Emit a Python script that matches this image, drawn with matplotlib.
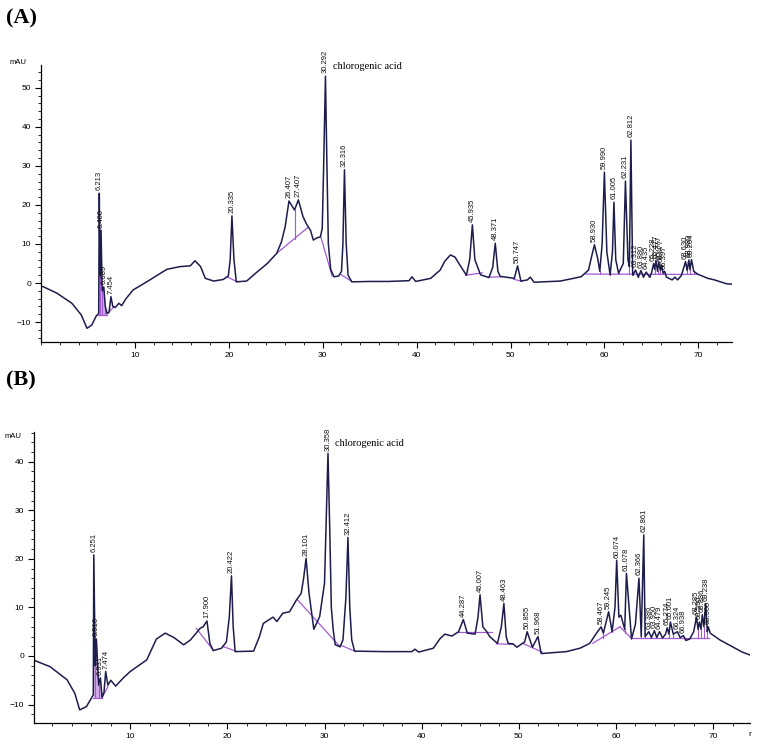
import matplotlib
matplotlib.use("Agg")
import matplotlib.pyplot as plt
import numpy as np
from matplotlib.ticker import MultipleLocator

# ---- panel A : trace points between peaks (time min, mAU) ----
a_trace_t = [0.2, 1.7, 3.3, 4.3, 4.9, 5.4, 5.9, 6.15, 6.30, 6.52, 6.85, 7.05, 7.25, 7.65, 7.9, 8.3, 8.6, 9.0,
             9.8, 11.6, 13.4, 14.8, 15.9, 16.4, 17.0, 17.5, 18.4, 19.4, 19.95, 20.15, 20.55, 20.8, 21.9, 23.0,
             24.1, 25.1, 25.6, 26.0, 27.0, 27.9, 28.3, 28.7, 29.0, 29.4, 29.75, 29.95, 30.1, 30.45, 30.6,
             30.85, 31.2, 31.7, 32.0, 32.15, 32.5, 32.7, 33.1, 35.0, 37.0, 39.2, 39.5, 39.9, 41.5, 42.5, 43.0,
             43.6, 44.1, 44.5, 45.3, 45.65, 46.2, 46.8, 47.7, 48.1, 48.65, 48.9, 50.4, 51.1, 51.8, 52.1, 52.5,
             55.3, 57.5, 58.3, 58.6, 59.3, 59.5, 59.75, 60.25, 60.6, 60.85, 61.2, 61.5, 62.0, 62.5, 62.65,
             63.0, 63.6, 64.15, 64.8, 65.0, 65.35, 65.65, 65.95, 66.25, 66.6, 67.2, 67.5, 67.8, 68.2, 68.8,
             69.1, 69.5, 69.9, 71.0, 71.7, 73.0, 73.6]
a_trace_y = [-0.9, -2.6, -5.2, -8.2, -11.6, -10.8, -8.4, -7.8, 2.0, -2.0, -6.0, -7.8, -7.5, -6.0, -6.3, -5.2,
             -5.8, -4.2, -1.8, 0.8, 3.5, 4.2, 4.4, 5.7, 4.2, 1.2, 0.5, 0.9, 1.8, 6.0, 6.0, 0.3, 0.5, 2.8,
             5.0, 7.6, 10.5, 14.4, 18.7, 17.0, 15.0, 13.5, 11.0, 11.6, 11.8, 14.0, 30.0, 30.0, 10.0,
             3.5, 1.6, 1.8, 3.0, 10.0, 10.0, 2.0, 0.3, 0.4, 0.4, 0.6, 1.6, 0.4, 1.2, 3.3, 5.6,
             7.2, 6.6, 5.0, 2.0, 6.0, 6.0, 2.1, 1.4, 4.0, 3.0, 1.7, 1.2, 0.5, 0.8, 1.5, 0.2,
             0.5, 1.6, 3.3, 6.5, 6.0, 3.0, 10.0, 8.0, 2.1, 8.0, 6.0, 2.5, 5.0, 6.0, 4.2,
             2.0, 1.5, 1.5, 1.5, 2.5, 3.5, 3.0, 3.2, 2.5, 1.5, 0.8, 1.5, 0.8, 2.0, 3.2,
             3.4, 3.0, 2.3, 1.2, 0.8, -0.2, -0.3]
a_peak_rt = ["6.213", "6.400", "6.689", "7.454", "20.335", "26.407", "27.407", "30.292", "32.316",
             "45.935", "48.371", "50.747", "58.930", "59.990", "61.005", "62.231", "62.812",
             "63.312", "63.880", "64.435", "65.228", "65.477", "65.777", "66.077", "66.397",
             "68.630", "68.980", "69.264"]
a_peak_h = [23.0, 13.5, -1.0, -3.5, 17.2, 21.0, 21.3, 53.0, 29.0,
            14.9, 10.2, 4.4, 9.8, 28.4, 20.7, 26.1, 36.6,
            3.3, 3.2, 2.8, 5.0, 5.8, 5.4, 4.6, 3.0,
            5.5, 5.9, 6.0]
a_base = [(6.1, -8.3, 7.05, -8.3), (7.1, -7.8, 7.8, -6.0), (19.8, 1.6, 20.9, 0.3), (25.1, 7.6, 28.4, 14.2),
          (29.8, 11.8, 31.0, 1.8), (31.9, 2.2, 33.1, 0.4), (45.2, 2.0, 47.0, 2.6), (47.6, 1.5, 49.0, 1.6),
          (50.3, 1.0, 51.2, 0.4), (58.0, 2.3, 69.9, 2.2)]
a_drop_t = [6.30, 6.52, 6.85, 27.0, 59.5, 60.6, 61.5, 62.65, 63.0, 63.6, 64.15, 64.8, 65.35, 65.65, 65.95,
            66.25, 68.8, 69.1, 69.5]
a_drop_y = [-8.3, -8.3, -8.3, 11.4, 2.3, 2.3, 2.3, 2.3, 2.3, 2.3, 2.3, 2.3, 2.3, 2.3, 2.3,
            2.3, 2.2, 2.2, 2.2]

# ---- panel B ----
b_trace_t = [0.0, 1.75, 3.5, 4.3, 4.8, 5.5, 6.2, 6.40, 6.75, 7.1, 7.3, 7.7, 8.0, 8.5, 9.3, 10.0, 11.7, 12.7,
             13.6, 14.5, 15.5, 16.2, 17.2, 17.5, 18.2, 18.55, 19.4, 19.9, 20.2, 20.6, 20.8, 22.7, 23.3, 23.7,
             24.7, 25.1, 25.7, 26.4, 27.1, 27.6, 27.85, 28.4, 28.9, 29.5, 30.0, 30.2, 30.55, 30.7, 30.9,
             31.1, 31.6, 31.9, 32.2, 32.6, 32.8, 33.1, 36.0, 39.0, 39.3, 39.7, 41.2, 41.9, 42.4, 43.1, 43.8,
             44.7, 45.5, 45.8, 46.3, 46.7, 47.0, 47.8, 48.2, 48.7, 48.9, 49.4, 49.8, 50.6, 51.4, 52.3, 54.9,
             56.3, 57.3, 58.0, 58.7, 59.6, 59.9, 60.3, 60.5, 60.9, 61.6, 62.0, 62.6, 63.0, 63.65, 64.2, 64.8,
             65.1, 65.45, 65.9, 66.6, 67.2, 67.6, 68.0, 68.45, 68.75, 69.05, 69.4, 69.7, 70.7, 72.0, 73.0, 73.8]
b_trace_y = [-0.8, -2.2, -4.9, -7.7, -11.1, -10.4, -8.0, -2.0, -6.0, -8.5, -7.5, -6.0, -5.0, -6.2, -4.5, -3.2,
             -0.8, 3.5, 4.7, 3.8, 2.3, 3.3, 5.7, 6.0, 2.6, 1.1, 1.6, 2.9, 8.0, 6.0, 0.9, 1.0, 4.0, 6.7,
             8.0, 7.1, 8.8, 9.1, 11.5, 12.9, 16.0, 13.0, 5.5, 8.1, 15.0, 30.0, 25.0, 10.0, 5.3,
             2.3, 1.9, 3.3, 12.0, 10.0, 3.3, 1.0, 0.9, 0.9, 1.4, 0.8, 1.6, 3.6, 4.5, 4.1, 5.0,
             4.7, 4.5, 8.0, 6.0, 5.0, 4.0, 2.6, 6.0, 4.0, 2.6, 2.5, 1.8, 2.9, 1.8, 0.5, 0.9,
             1.6, 2.6, 4.7, 4.7, 5.0, 10.0, 8.0, 8.4, 5.5, 3.5, 6.5, 4.0, 4.0, 3.8, 3.8, 3.7,
             4.5, 4.5, 4.5, 3.8, 3.2, 3.5, 5.0, 5.5, 5.5, 6.0, 5.0, 4.7, 3.3, 1.9, 0.8, 0.2]
b_peak_rt = ["6.251", "6.516", "6.931", "7.474", "17.900", "20.422", "28.101", "30.358", "32.412",
             "44.287", "46.007", "48.463", "50.855", "51.968", "58.467", "59.245", "60.074", "61.078",
             "62.366", "62.861", "63.386", "63.950", "64.479", "65.274", "65.601", "66.324", "66.938",
             "68.285", "68.590", "68.886", "69.238", "69.500"]
b_peak_h = [20.8, 3.5, -4.5, -3.2, 7.2, 16.5, 20.1, 41.7, 24.4,
            7.5, 12.6, 10.8, 5.0, 4.0, 6.0, 9.1, 19.7, 17.0,
            16.0, 24.9, 5.0, 5.2, 5.0, 5.8, 7.0, 5.0, 4.2,
            8.0, 7.0, 8.5, 10.8, 6.0]
b_base = [(6.15, -8.6, 7.1, -8.6), (7.1, -8.6, 7.7, -6.3), (16.8, 5.7, 18.5, 1.3), (19.5, 2.0, 21.0, 0.9),
          (27.2, 11.6, 31.6, 1.9), (31.7, 2.2, 33.2, 0.9), (43.6, 5.0, 47.2, 5.0), (47.7, 2.5, 49.3, 2.4),
          (50.4, 2.6, 52.4, 0.8), (57.6, 2.6, 60.4, 6.0), (60.4, 6.0, 61.5, 3.8), (61.5, 3.7, 69.6, 3.7)]
b_drop_t = [6.40, 6.75, 7.1, 58.7, 59.6, 60.9, 62.6, 63.0, 63.65, 64.2, 64.8, 65.45, 65.9, 66.6, 67.2,
            68.45, 68.75, 69.05, 69.4]
b_drop_y = [-8.6, -8.6, -8.6, 3.8, 5.1, 4.8, 3.7, 3.7, 3.7, 3.7, 3.7, 3.7, 3.7, 3.7, 3.7,
            3.7, 3.7, 3.7, 3.7]

LINE = "#1d1d4d"
PURP = "#a35ad2"
SANS = "Liberation Sans"
SERIF = "Liberation Serif"


def draw_panel(ax, trace_t, trace_y, rts, hs, base, drop_t, drop_y, fill_range, ylim, xlim, yticks, chloro_y):
    t = np.concatenate([trace_t, [float(r) for r in rts]])
    y = np.concatenate([trace_y, hs])
    order = np.argsort(t)
    t, y = t[order], y[order]

    # integrated area of the early peaks
    m = (t >= fill_range[0]) & (t <= fill_range[1])
    ax.fill_between(t[m], y[m], fill_range[2], color=PURP, alpha=0.5, lw=0)
    for x0, y0, x1, y1 in base:
        ax.plot([x0, x1], [y0, y1], color=PURP, lw=0.9)
    for dt, dy in zip(drop_t, drop_y):
        ax.plot([dt, dt], [dy, np.interp(dt, t, y)], color=PURP, lw=0.8)
    ax.plot(t, y, color=LINE, lw=1.1, solid_joinstyle="round")

    for r, h in zip(rts, hs):
        ax.annotate(r, (float(r), h), xytext=(0, 2), textcoords="offset points", rotation=90,
                    ha="center", va="bottom", fontsize=5.5, family=SANS, color="#111111")

    ax.text(31.1, chloro_y, "chlorogenic acid", family=SERIF, fontsize=7.5, va="center", ha="left")

    ax.set_xlim(*xlim)
    ax.set_ylim(*ylim)
    ax.set_xticks([10, 20, 30, 40, 50, 60, 70])
    ax.set_yticks(yticks)
    ax.xaxis.set_minor_locator(MultipleLocator(2))
    ax.yaxis.set_minor_locator(MultipleLocator(2))
    ax.tick_params(which="major", length=4, width=0.8, labelsize=6, direction="out", pad=3)
    ax.tick_params(which="minor", length=2, width=0.6, direction="out")
    for lab in ax.get_xticklabels() + ax.get_yticklabels():
        lab.set_family(SANS)
    ax.spines["top"].set_visible(False)
    ax.spines["right"].set_visible(False)
    ax.spines["left"].set_linewidth(0.9)
    ax.spines["bottom"].set_linewidth(0.9)
    ax.patch.set_alpha(0)


fig = plt.figure(figsize=(7.58, 7.45), dpi=100)
axA = fig.add_axes([0.054, 0.541, 0.912, 0.372])
axB = fig.add_axes([0.0449, 0.0295, 0.9446, 0.3906])

draw_panel(axA, a_trace_t, a_trace_y, a_peak_rt, a_peak_h, a_base, a_drop_t, a_drop_y,
           (6.1, 7.05, -8.3), (-15.1, 55.9), (0, 73.6), [-10, 0, 10, 20, 30, 40, 50], 55.4)
draw_panel(axB, b_trace_t, b_trace_y, b_peak_rt, b_peak_h, b_base, b_drop_t, b_drop_y,
           (6.15, 7.1, -8.6), (-13.8, 46.1), (0.1, 73.8), [-10, 0, 10, 20, 30, 40], 43.8)

fig.text(18 / 758, 1 - 62 / 745, "mAU", fontsize=5.5, family=SANS, ha="center", va="center")
fig.text(13 / 758, 1 - 436 / 745, "mAU", fontsize=5.5, family=SANS, ha="center", va="center")
fig.text(750 / 758, 1 - 735 / 745, "r", fontsize=6, family=SANS, ha="center", va="center")

fig.text(6 / 758, 1 - 18 / 745, "(A)", fontsize=16, fontweight="bold", family=SERIF, ha="left", va="center")
fig.text(6 / 758, 1 - 380 / 745, "(B)", fontsize=16, fontweight="bold", family=SERIF, ha="left", va="center")

fig.savefig("out.png", dpi=100, facecolor="white")
